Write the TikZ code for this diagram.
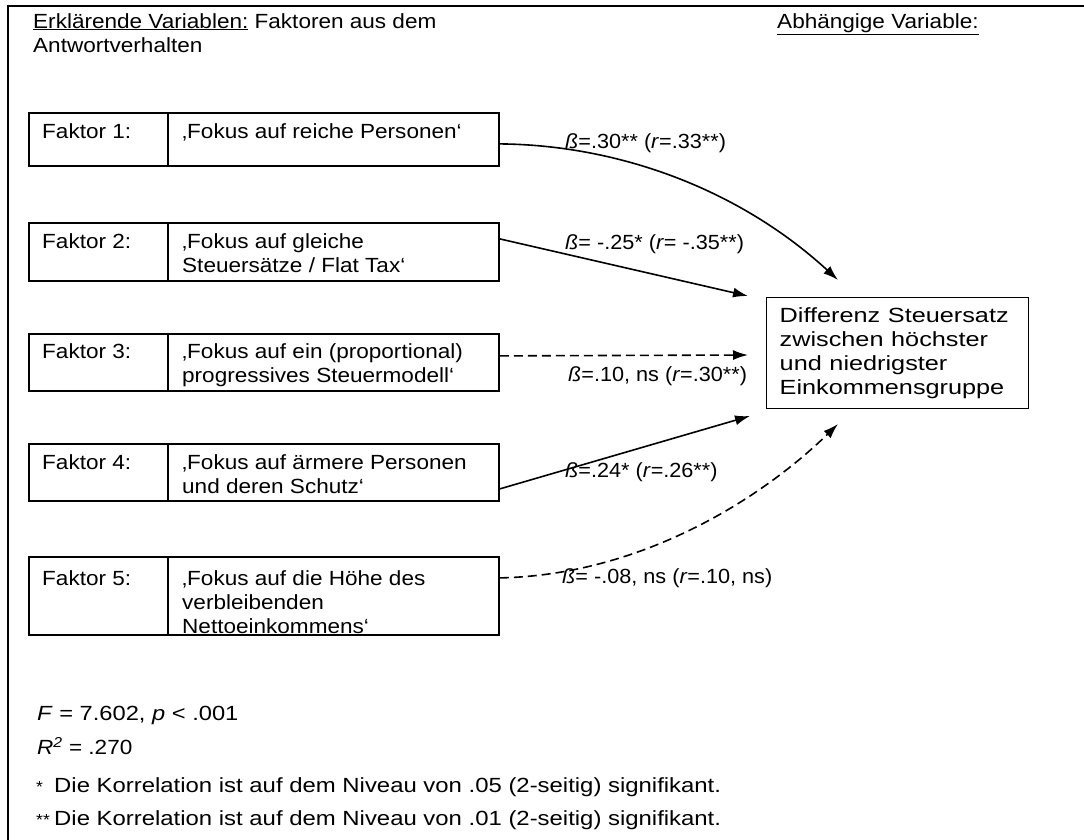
\documentclass[tikz,border=0pt]{standalone}
\usepackage{fontspec}
\usepackage{graphicx}
\setmainfont[FakeStretch=1.1]{Liberation Sans}
\usetikzlibrary{arrows.meta}

\tikzset{
  faktor/.style={draw, line width=1.8pt, anchor=north west, minimum width=470pt, inner sep=0pt},
  zielbox/.style={draw, line width=1.4pt, anchor=north west, minimum height=111pt,
    text width=236pt, inner xsep=13pt, inner ysep=6pt, align=left},
  txt/.style={anchor=north west, inner sep=0pt, align=left},
  beta/.style={anchor=west, inner sep=0pt},
  pfeil/.style={line width=1.6pt, -{Latex[length=15pt,width=10pt]}},
  pfeilns/.style={pfeil, dash pattern=on 9pt off 5pt},
}
\newcommand{\sterne}[1]{\makebox[18pt][l]{\fontsize{16}{16}\selectfont #1}}
\newcommand{\breiter}[2]{\scalebox{#1}[1]{#2}}

\begin{document}
\begin{tikzpicture}[x=1pt, y=-1pt, font=\fontsize{20.5}{24}\selectfont]
		\useasboundingbox (0,0) rectangle (1084,840);
		%frame, cut off right and bottom
		\draw[line width=2.2pt] (8,840) -- (8,6) -- (1084,6);
		
		%headings
		\node[txt] (erkl) at (33,13) {\underline{Erklärende Variablen:} Faktoren aus dem\\Antwortverhalten};
		\node[txt] (abh) at (777,13) {\underline{Abhängige Variable:}};
		
		%factor boxes
		\node[faktor, minimum height=53pt] (f1) at (28,112) {};
		\node[faktor, minimum height=58pt] (f2) at (28,222) {};
		\node[faktor, minimum height=57pt] (f3) at (28,333) {};
		\node[faktor, minimum height=57pt] (f4) at (28,443) {};
		\node[faktor, minimum height=78pt] (f5) at (28,556) {};
		\foreach \f in {f1,f2,f3,f4,f5}{
			\draw[line width=1.8pt] ([xshift=140pt]\f.north west) -- ([xshift=140pt]\f.south west);
		}
		
		\node[txt] (n1) at (42,123) {Faktor 1:};
		\node[txt] (t1) at (182,123) {‚Fokus auf reiche Personen‘};
		\node[txt] (n2) at (42,233) {Faktor 2:};
		\node[txt] (t2) at (182,233) {‚Fokus auf gleiche\\Steuersätze / Flat Tax‘};
		\node[txt] (n3) at (42,343) {Faktor 3:};
		\node[txt] (t3) at (182,343) {‚Fokus auf ein (proportional)\\progressives Steuermodell‘};
		\node[txt] (n4) at (42,454) {Faktor 4:};
		\node[txt] (t4) at (182,454) {‚Fokus auf ärmere Personen\\und deren Schutz‘};
		\node[txt] (n5) at (42,570) {Faktor 5:};
		\node[txt] (t5) at (182,570) {‚Fokus auf die Höhe des\\verbleibenden\\Nettoeinkommens‘};
		
		%dependent variable
		\node[zielbox] (ziel) at (766,297) {\breiter{1.12}{\begin{tabular}{@{}l@{}}Differenz Steuersatz\\zwischen höchster\\und niedrigster\\Einkommensgruppe\end{tabular}}};
		
		%arrow ends
		\coordinate (e1) at (838,280);
		\coordinate (e2) at (748,296);
		\coordinate (e3) at (748,355);
		\coordinate (e4) at (750,416);
		\coordinate (e5) at (838,424);
		
		\draw[pfeil] ([yshift=-4.5pt]f1.east) .. controls (620,145) and (740,190) .. (e1);
		\draw[pfeil] ([yshift=13pt]f2.east) -- (e2);
		\draw[pfeilns] ([yshift=6.5pt]f3.east) -- (e3);
		\draw[pfeil] ([yshift=-16.5pt]f4.east) -- (e4);
		\draw[pfeilns] ([yshift=18pt]f5.east) .. controls (640,575) and (760,500) .. (e5);
		
		\node[beta] (b1) at (565,143) {\breiter{0.96}{\textit{ß}=.30** (\textit{r}=.33**)}};
		\node[beta] (b2) at (565,244) {\breiter{0.96}{\textit{ß}= -.25* (\textit{r}= -.35**)}};
		\node[beta] (b3) at (568,376) {\breiter{0.96}{\textit{ß}=.10, ns (\textit{r}=.30**)}};
		\node[beta] (b4) at (565,472) {\breiter{0.96}{\textit{ß}=.24* (\textit{r}=.26**)}};
		\node[beta] (b5) at (562,578) {\breiter{0.96}{\textit{ß}= -.08, ns (\textit{r}=.10, ns)}};
		
		%statistics
		\node[txt] (fstat) at (37,706) {\breiter{1.05}{\textit{F} = 7.602, \textit{p} < .001}};
		\node[txt] (rsq) at (37,737) {\textit{R\textsuperscript{2}} = .270};
		\node[txt] (sig1) at (36,777) {\sterne{*}\breiter{1.06}{Die Korrelation ist auf dem Niveau von .05 (2-seitig) signifikant.}};
		\node[txt] (sig2) at (36,810) {\sterne{**}\breiter{1.06}{Die Korrelation ist auf dem Niveau von .01 (2-seitig) signifikant.}};
\end{tikzpicture}
\end{document}
